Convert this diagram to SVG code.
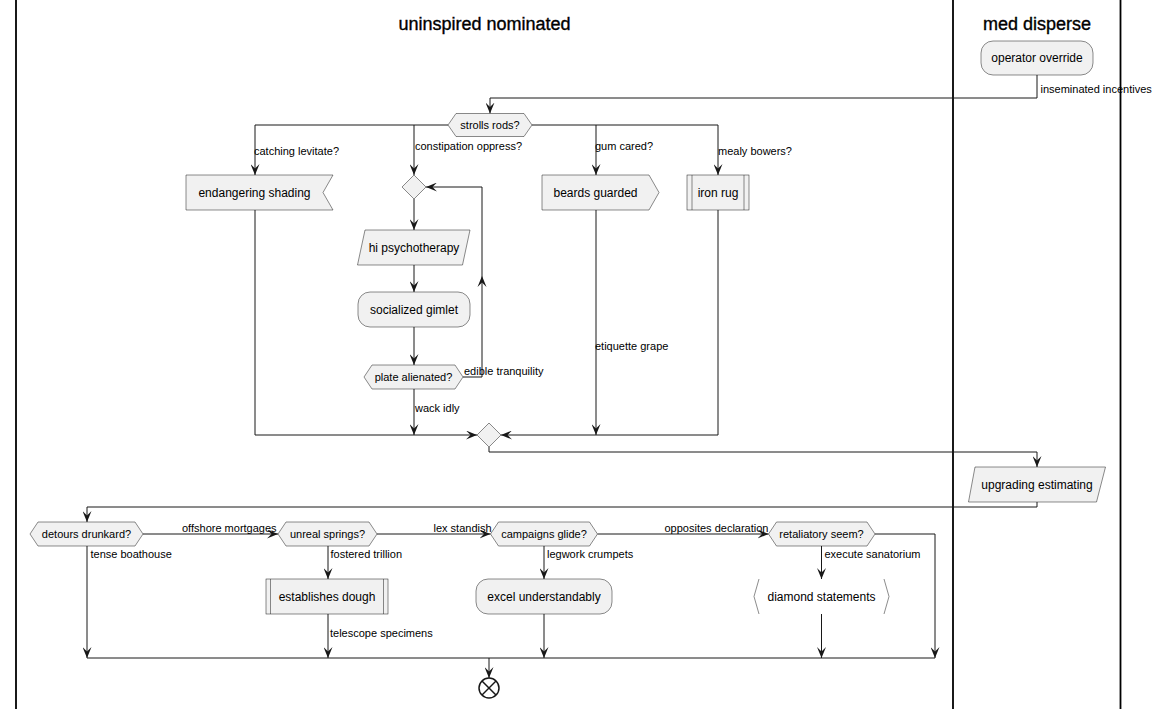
<svg xmlns="http://www.w3.org/2000/svg" width="1160" height="709" viewBox="0 0 1160 709">
  <style>
    text { font-family: "Liberation Sans", Arial, sans-serif; fill: #000000; }
    .title { font-size: 18px; text-anchor: middle; stroke: #000000; stroke-width: 0.35; }
    .t12 { font-size: 12px; text-anchor: middle; }
    .t11 { font-size: 11px; text-anchor: middle; }
    .lbl { font-size: 11px; }
    .node { fill: #F1F1F1; stroke: #181818; stroke-width: 0.5; }
    .bracket { fill: none; stroke: #181818; stroke-width: 0.5; }
    .edge { fill: none; stroke: #181818; stroke-width: 1; marker-end: url(#arrow); }
    .line { fill: none; stroke: #181818; stroke-width: 1; }
    .lane { stroke: #000000; stroke-width: 1.8; }
  </style>
  <defs>
    <marker id="arrow" viewBox="0 0 11 9" refX="11" refY="4.5" markerWidth="11" markerHeight="9" markerUnits="userSpaceOnUse" orient="auto">
      <path d="M0,0 L11,4.5 L0,9 L4.5,4.5 Z" fill="#181818"/>
    </marker>
  </defs>

  <rect width="1160" height="709" fill="#FFFFFF"/>

  <!-- swimlanes -->
  <g id="lanes">
    <line class="lane" x1="16" y1="0" x2="16" y2="709"/>
    <line class="lane" x1="953" y1="0" x2="953" y2="709"/>
    <line class="lane" x1="1120.5" y1="0" x2="1120.5" y2="709"/>
    <text class="title" x="484.5" y="30">uninspired nominated</text>
    <text class="title" x="1037" y="30">med disperse</text>
  </g>

  <!-- connectors -->
  <g id="connectors">
    <path class="edge" d="M1037,75 V98 H490 V113.5"/>
    <path class="edge" d="M448,125 H255 V175"/>
    <path class="edge" d="M414,125 V175"/>
    <path class="edge" d="M532,125 H718 V175"/>
    <path class="edge" d="M596,125 V175"/>
    <path class="edge" d="M255,210 V435 H477"/>
    <path class="edge" d="M414,199 V230"/>
    <path class="edge" d="M414,265 V292"/>
    <path class="edge" d="M414,327 V365"/>
    <path class="edge" d="M463,377 H482 V187 H426"/>
    <path d="M482,276 L477.5,287 L482,282.5 L486.5,287 Z" fill="#181818"/>
    <path class="edge" d="M414,389 V435"/>
    <path class="edge" d="M596,210 V435"/>
    <path class="edge" d="M718,210 V435 H501"/>
    <path class="edge" d="M489,447 V452 H1037 V467"/>
    <path class="edge" d="M1037,502 V507 H87 V522"/>
    <path class="edge" d="M143,534 H278"/>
    <path class="edge" d="M87,546 V658"/>
    <path class="edge" d="M377,534 H490.5"/>
    <path class="edge" d="M328,546 V579"/>
    <path class="edge" d="M328,614 V658"/>
    <path class="edge" d="M597.5,534 H768.5"/>
    <path class="edge" d="M544,546 V579"/>
    <path class="edge" d="M544,614 V658"/>
    <path class="edge" d="M821.5,546 V579"/>
    <path class="edge" d="M821.5,614 V658"/>
    <path class="edge" d="M875,534 H935 V658"/>
    <path class="line" d="M87,658 H935"/>
    <path class="edge" d="M489,658 V678"/>

    <text class="lbl" x="1040.5" y="93">inseminated incentives</text>
    <text class="lbl" x="254" y="155">catching levitate?</text>
    <text class="lbl" x="415" y="150">constipation oppress?</text>
    <text class="lbl" x="595" y="150">gum cared?</text>
    <text class="lbl" x="718" y="155">mealy bowers?</text>
    <text class="lbl" x="464" y="375">edible tranquility</text>
    <text class="lbl" x="415" y="412">wack idly</text>
    <text class="lbl" x="595" y="350">etiquette grape</text>
    <text class="lbl" x="182" y="532">offshore mortgages</text>
    <text class="lbl" x="90.5" y="558">tense boathouse</text>
    <text class="lbl" x="330.5" y="558">fostered trillion</text>
    <text class="lbl" x="330" y="637">telescope specimens</text>
    <text class="lbl" x="433.5" y="532">lex standish</text>
    <text class="lbl" x="547" y="558">legwork crumpets</text>
    <text class="lbl" x="664.5" y="532">opposites declaration</text>
    <text class="lbl" x="824.5" y="558">execute sanatorium</text>
  </g>

  <!-- nodes -->
  <g id="operator-override">
    <rect class="node" x="981" y="41" width="112" height="34" rx="12" ry="12"/>
    <text class="t12" x="1037" y="62">operator override</text>
  </g>
  <g id="strolls-rods">
    <polygon class="node" points="448,125 456,113.5 524,113.5 532,125 524,136.5 456,136.5"/>
    <text class="t11" x="490" y="129">strolls rods?</text>
  </g>
  <g id="endangering-shading">
    <polygon class="node" points="186,175 333,175 323,192.5 333,210 186,210"/>
    <text class="t12" x="254.5" y="197">endangering shading</text>
  </g>
  <g id="loop-merge">
    <polygon class="node" points="414,175 426,187 414,199 402,187"/>
  </g>
  <g id="hi-psychotherapy">
    <polygon class="node" points="365,230 470,230 462.5,265 357.5,265"/>
    <text class="t12" x="414" y="252">hi psychotherapy</text>
  </g>
  <g id="socialized-gimlet">
    <rect class="node" x="358" y="292" width="112" height="35" rx="12" ry="12"/>
    <text class="t12" x="414" y="314">socialized gimlet</text>
  </g>
  <g id="plate-alienated">
    <polygon class="node" points="364,377 372,365 455,365 463,377 455,389 372,389"/>
    <text class="t11" x="413.5" y="381">plate alienated?</text>
  </g>
  <g id="beards-guarded">
    <polygon class="node" points="542,175 649,175 659,192.5 649,210 542,210"/>
    <text class="t12" x="595.5" y="197">beards guarded</text>
  </g>
  <g id="iron-rug">
    <rect class="node" x="687" y="175" width="62" height="35"/>
    <line class="bracket" x1="692" y1="175" x2="692" y2="210"/>
    <line class="bracket" x1="744" y1="175" x2="744" y2="210"/>
    <text class="t12" x="718" y="197">iron rug</text>
  </g>
  <g id="branch-merge">
    <polygon class="node" points="489,423 501,435 489,447 477,435"/>
  </g>
  <g id="upgrading-estimating">
    <polygon class="node" points="975,467 1105.5,467 1096.5,502 968.5,502"/>
    <text class="t12" x="1037" y="489">upgrading estimating</text>
  </g>
  <g id="detours-drunkard">
    <polygon class="node" points="30,534 38,522 135,522 143,534 135,546 38,546"/>
    <text class="t11" x="86.5" y="538">detours drunkard?</text>
  </g>
  <g id="unreal-springs">
    <polygon class="node" points="278,534 286,522 369,522 377,534 369,546 286,546"/>
    <text class="t11" x="327.5" y="538">unreal springs?</text>
  </g>
  <g id="establishes-dough">
    <rect class="node" x="266" y="579" width="122" height="35"/>
    <line class="bracket" x1="270.5" y1="579" x2="270.5" y2="614"/>
    <line class="bracket" x1="383.5" y1="579" x2="383.5" y2="614"/>
    <text class="t12" x="327" y="601">establishes dough</text>
  </g>
  <g id="campaigns-glide">
    <polygon class="node" points="490.5,534 498.5,522 589.5,522 597.5,534 589.5,546 498.5,546"/>
    <text class="t11" x="544" y="538">campaigns glide?</text>
  </g>
  <g id="excel-understandably">
    <rect class="node" x="476" y="579" width="136" height="35" rx="12" ry="12"/>
    <text class="t12" x="544" y="601">excel understandably</text>
  </g>
  <g id="retaliatory-seem">
    <polygon class="node" points="768.5,534 776.5,522 867,522 875,534 867,546 776.5,546"/>
    <text class="t11" x="821.5" y="538">retaliatory seem?</text>
  </g>
  <g id="diamond-statements">
    <polyline class="bracket" points="759,579 754,596.5 759,614"/>
    <polyline class="bracket" points="884,579 889,596.5 884,614"/>
    <text class="t12" x="821.5" y="601">diamond statements</text>
  </g>
  <g id="end">
    <circle cx="489" cy="688" r="10" fill="#FFFFFF" stroke="#181818" stroke-width="1.5"/>
    <line x1="482" y1="681" x2="496" y2="695" stroke="#181818" stroke-width="1.5"/>
    <line x1="496" y1="681" x2="482" y2="695" stroke="#181818" stroke-width="1.5"/>
  </g>
</svg>
